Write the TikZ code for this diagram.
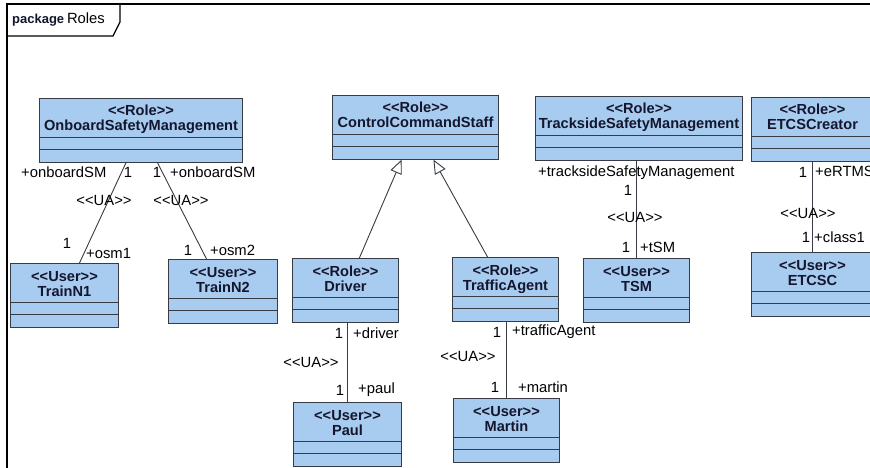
\documentclass[tikz,border=0pt]{standalone}
\usepackage{fontspec}
\setmainfont{Liberation Sans}
\usepackage{xcolor}
\usetikzlibrary{shapes.multipart,arrows.meta}
\definecolor{classfill}{RGB}{168, 204, 240}
\definecolor{classline}{RGB}{55, 60, 68}
\definecolor{textdark}{RGB}{20, 22, 45}
\newcommand{\stereo}[1]{<{}<#1>{}>}
\newcommand{\umlhead}[2]{\rule{0pt}{14pt}\stereo{#1}\\#2\vphantom{gy}}

\begin{document}
\begin{tikzpicture}[
    x=1pt, y=-1pt,
    umlclass/.style={rectangle split, rectangle split parts=3, draw=classline, line width=1pt, fill=classfill, anchor=north west, align=center, inner ysep=3pt, inner xsep=2pt, rectangle split empty part height=5pt, rectangle split empty part depth=0pt, font=\fontsize{14.6}{15}\selectfont\bfseries, text=textdark},
    lbl/.style={inner sep=0pt, font=\fontsize{14.8}{16}\selectfont, text=black},
    assoc/.style={draw=classline, line width=0.9pt},
    gen/.style={draw=classline, line width=0.9pt, -{Triangle[open, length=14pt, width=12pt]}},
    frame/.style={draw=black, line width=1.2pt}
]
    \useasboundingbox (0,0) rectangle (870,468);
    \clip (0,0) rectangle (870,468);
    \fill[white] (0,0) rectangle (870,468);

    % Package frame
    \draw[frame] (7,470) -- (7,4) -- (872,4);
    \draw[frame] (7,36) -- (113,36) -- (120,22) -- (120,4);
    \node[anchor=west, inner sep=0pt] (pkg) at (12,20) {{\fontsize{13}{15}\selectfont\bfseries\color{textdark}package} {\fontsize{14.8}{16}\selectfont Roles}};

    % Onboard
    \node[umlclass, minimum width=203] (osm) at (39,98) {\umlhead{Role}{OnboardSafetyManagement} \nodepart{two} \nodepart{three}};
    \node[umlclass, minimum width=108] (train1) at (10,263) {\umlhead{User}{TrainN1} \nodepart{two} \nodepart{three}};
    \node[umlclass, minimum width=109] (train2) at (168,259) {\umlhead{User}{TrainN2} \nodepart{two} \nodepart{three}};

    % Control command staff
    \node[umlclass, minimum width=166] (ccs) at (332,95) {\umlhead{Role}{ControlCommandStaff} \nodepart{two} \nodepart{three}};
    \node[umlclass, minimum width=106] (driver) at (292,258) {\umlhead{Role}{Driver} \nodepart{two} \nodepart{three}};
    \node[umlclass, minimum width=106] (traffic) at (452,257) {\umlhead{Role}{TrafficAgent} \nodepart{two} \nodepart{three}};
    \node[umlclass, minimum width=108] (paul) at (293,402) {\umlhead{User}{Paul} \nodepart{two} \nodepart{three}};
    \node[umlclass, minimum width=106] (martin) at (453,398) {\umlhead{User}{Martin} \nodepart{two} \nodepart{three}};

    % Trackside
    \node[umlclass, minimum width=207] (trackside) at (535,96) {\umlhead{Role}{TracksideSafetyManagement} \nodepart{two} \nodepart{three}};
    \node[umlclass, minimum width=106] (tsm) at (583,258) {\umlhead{User}{TSM} \nodepart{two} \nodepart{three}};

    % ETCS
    \node[umlclass, minimum width=122] (creator) at (751,97) {\umlhead{Role}{ETCSCreator} \nodepart{two} \nodepart{three}};
    \node[umlclass, minimum width=122] (etcsc) at (751,252) {\umlhead{User}{ETCSC} \nodepart{two} \nodepart{three}};

    % Connectors
    \draw[assoc] (osm) -- (train1);
    \draw[assoc] (osm) -- (train2);
    \draw[gen] (driver) -- (ccs);
    \draw[gen] (traffic) -- (ccs);
    \draw[assoc] (paul.north) -- (paul.north |- driver.south);
    \draw[assoc] (martin.north) -- (martin.north |- traffic.south);
    \draw[assoc] (tsm.north) -- (tsm.north |- trackside.south);
    \draw[assoc] (etcsc.north) -- (etcsc.north |- creator.south);

    % Labels onboard
    \node[lbl, anchor=west] (osm_end1) at (21,172) {+onboardSM};
    \node[lbl] (osm_m1) at (128,172) {1};
    \node[lbl] (osm_m2) at (157,172) {1};
    \node[lbl, anchor=west] (osm_end2) at (170,172) {+onboardSM};
    \node[lbl] (ua_train1) at (104,200) {\stereo{UA}};
    \node[lbl] (ua_train2) at (181,200) {\stereo{UA}};
    \node[lbl] (train1_m) at (67,243) {1};
    \node[lbl, anchor=west] (train1_end) at (86,253) {+osm1};
    \node[lbl] (train2_m) at (188,250) {1};
    \node[lbl, anchor=west] (train2_end) at (210,250) {+osm2};

    % Labels staff
    \node[lbl] (driver_m) at (339,333) {1};
    \node[lbl, anchor=west] (driver_end) at (353,333) {+driver};
    \node[lbl] (ua_paul) at (311,362) {\stereo{UA}};
    \node[lbl] (paul_m) at (340,390) {1};
    \node[lbl, anchor=west] (paul_end) at (358,390) {+paul};
    \node[lbl] (traffic_m) at (497,332) {1};
    \node[lbl, anchor=west] (traffic_end) at (512,332) {+trafficAgent};
    \node[lbl] (ua_martin) at (468,356) {\stereo{UA}};
    \node[lbl] (martin_m) at (495,387) {1};
    \node[lbl, anchor=west] (martin_end) at (518,387) {+martin};

    % Labels trackside and ETCS
    \node[lbl, anchor=west] (trackside_end) at (538,173) {+tracksideSafetyManagement};
    \node[lbl] (trackside_m) at (628,190) {1};
    \node[lbl] (ua_tsm) at (635,217) {\stereo{UA}};
    \node[lbl] (tsm_m) at (626,247) {1};
    \node[lbl, anchor=west] (tsm_end) at (640,247) {+tSM};
    \node[lbl] (creator_m) at (803,172) {1};
    \node[lbl, anchor=west] (creator_end) at (815,171) {+eRTMS};
    \node[lbl] (ua_etcsc) at (808,213) {\stereo{UA}};
    \node[lbl] (etcsc_m) at (806,237) {1};
    \node[lbl, anchor=west] (etcsc_end) at (814,237) {+class1};

\end{tikzpicture}
\end{document}
